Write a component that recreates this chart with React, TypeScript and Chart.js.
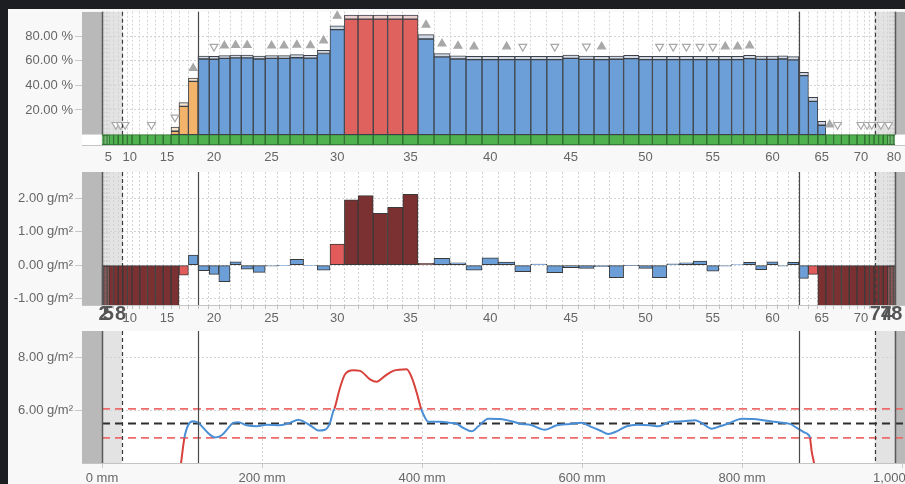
import { useEffect, useRef } from 'react';
import { Chart, registerables } from 'chart.js';

Chart.register(...registerables);
Chart.defaults.font.family = "'Liberation Sans', Arial, Helvetica, sans-serif";
Chart.defaults.font.size = 13;
Chart.defaults.color = '#666666';

// ---------------- data ----------------
// cross-direction zone edges (mm), 80 zones
const zoneEdgesMm = [
  0, 1.75, 3.5, 5.25, 7, 8.75, 14.5, 20.25, 26, 31.75, 37.5, 47.25, 57, 66.75, 76.5, 86.25, 96.25, 108, 120,
  134, 146, 160, 174, 189, 204, 220, 235, 252, 269, 285, 303, 320, 339, 357, 376, 395, 415, 435, 455, 475, 495.5,
  516, 536, 556, 576, 596, 615, 634, 652, 671, 688, 706, 722, 739, 756, 771, 787, 802, 817, 831, 845, 857, 871,
  883, 894.75, 904.75, 914.5, 924.25, 934, 943.75, 953.5, 959.25, 965, 970.75, 976.5, 982.25, 984, 985.75, 987.5,
  989.25, 991,
];

// coverage (%) per zone
const coverMainPct = [
  0, 0, 0, 0, 0, 0, 0, 0, 0, 0,
  0, 0, 0, 0, 0, 2.7, 23, 43.3, 61.5, 61.3,
  62, 62.4, 62.4, 61.5, 62, 62, 62.5, 62.2, 66, 85.4,
  94, 94, 94, 94, 94, 77.8, 63.2, 61.5, 61, 61,
  61, 61, 61, 61, 62, 61.2, 61, 61.3, 61.8, 61,
  61, 61, 61, 61, 61, 61, 61, 61.8, 61.2, 61.2,
  61.5, 60.8, 48, 27, 7.6, 0, 0, 0, 0, 0,
  0, 0, 0, 0, 0, 0, 0, 0, 0, 0,
];
const coverCapPct = [
  0, 0, 0, 0, 0, 0, 0, 0, 0, 0,
  0, 0, 0, 0, 0, 3.3, 3, 2.7, 2.3, 2.3,
  2.3, 2.3, 2.3, 2.3, 2.3, 2.3, 2.5, 2.3, 2.5, 3.2,
  3.3, 3.3, 3.3, 3.3, 3.3, 3.5, 2.7, 2.6, 2.6, 2.6,
  2.6, 2.6, 2.6, 2.6, 2.6, 2.6, 2.6, 2.6, 2.6, 2.6,
  2.6, 2.6, 2.6, 2.6, 2.6, 2.6, 2.6, 2.6, 2.6, 2.6,
  2.6, 2.6, 2.7, 3.3, 3.2, 0, 0, 0, 0, 0,
  0, 0, 0, 0, 0, 0, 0, 0, 0, 0,
];
const coverColorKey = [
  'b', 'b', 'b', 'b', 'b', 'b', 'b', 'b', 'b', 'b',
  'b', 'b', 'b', 'b', 'b', 'o', 'o', 'o', 'b', 'b',
  'b', 'b', 'b', 'b', 'b', 'b', 'b', 'b', 'b', 'b',
  'r', 'r', 'r', 'r', 'r', 'b', 'b', 'b', 'b', 'b',
  'b', 'b', 'b', 'b', 'b', 'b', 'b', 'b', 'b', 'b',
  'b', 'b', 'b', 'b', 'b', 'b', 'b', 'b', 'b', 'b',
  'b', 'b', 'b', 'b', 'b', 'b', 'b', 'b', 'b', 'b',
  'b', 'b', 'b', 'b', 'b', 'b', 'b', 'b', 'b', 'b',
];
// trend markers: 1 = rising, -1 = falling, 0 = none
const trendMarks = [
  0, 0, 0, 0, 0, 0, -1, -1, -1, 0,
  0, 0, -1, 0, 0, -1, 0, 1, 0, -1,
  1, 1, 1, 0, 1, 1, 1, 1, 1, 1,
  0, 0, 0, 0, 0, 1, 1, 1, 1, 0,
  1, -1, 0, -1, 0, -1, 1, 0, 0, 0,
  -1, -1, -1, -1, -1, 1, 1, 1, 0, 0,
  0, 0, 0, 0, 0, 1, -1, 0, 0, -1,
  -1, -1, 0, -1, 0, -1, 0, 0, 0, 0,
];
const markerGapPct = 8;
const statusBandMinPct = -8.5;
const topTicksPct = [20, 40, 60, 80];
const topLabelBars = [5, 10, 15, 20, 25, 30, 35, 40, 45, 50, 55, 60, 65, 70, 80];

// weight deviation (g/m²) per zone
const weightDeviationGsm = [
  -5.5, -5.5, -5.5, -5.5, -5.5, -5.5, -5.5, -5.5, -5.5, -5.5,
  -5.5, -5.5, -5.5, -5.5, -5.5, -5.5, -0.3, 0.3, -0.17, -0.28,
  -0.5, 0.1, -0.12, -0.22, -0.03, -0.02, 0.17, -0.02, -0.15, 0.63,
  1.96, 2.09, 1.56, 1.74, 2.13, 0.05, 0.2, 0.07, -0.15, 0.22,
  0.09, -0.2, 0.03, -0.23, -0.08, -0.1, -0.05, -0.38, -0.01, -0.1,
  -0.38, 0.04, 0.07, 0.12, -0.18, -0.03, 0.01, 0.08, -0.14, 0.1,
  -0.03, 0.08, -0.4, -0.28, -5.5, -5.5, -5.5, -5.5, -5.5, -5.5,
  -5.5, -5.5, -5.5, -5.5, -5.5, -5.5, -5.5, -5.5, -5.5, -5.5,
];
const deviationColorKey = [
  'd', 'd', 'd', 'd', 'd', 'd', 'd', 'd', 'd', 'd',
  'd', 'd', 'd', 'd', 'd', 'd', 'l', 'b', 'b', 'b',
  'b', 'b', 'b', 'b', 'b', 'b', 'b', 'b', 'b', 'l',
  'd', 'd', 'd', 'd', 'd', 'l', 'b', 'b', 'b', 'b',
  'b', 'b', 'b', 'b', 'b', 'b', 'b', 'b', 'b', 'b',
  'b', 'b', 'b', 'b', 'b', 'b', 'b', 'b', 'b', 'b',
  'b', 'b', 'b', 'l', 'd', 'd', 'd', 'd', 'd', 'd',
  'd', 'd', 'd', 'd', 'd', 'd', 'd', 'd', 'd', 'd',
];
const midTicksGsm = [-1, 0, 1, 2];
const midLabelBars = [10, 15, 20, 25, 30, 35, 40, 45, 50, 55, 60, 65, 70];
const midBigLabelBars = [2, 5, 8, 74, 78];

// continuous weight profile
const profileMm = [
  95, 98.8, 103, 107.9, 114.1, 120.4, 126.6, 135, 141.3, 149.6, 157.9, 164.1, 170.4, 180.9, 193.4, 205.9,
  222.5, 235, 245.4, 251.6, 262.1, 270.4, 278.8, 285, 289.1, 290.5, 297.5, 303.8, 314.1, 322.5, 335, 343.4,
  353.8, 364.1, 380.9, 387.1, 393.4, 399, 403.8, 407.9, 422.5, 435, 443.4, 451.6, 462.1, 470.4, 482.9, 497.5,
  512.1, 524.6, 535, 553.8, 568.4, 585, 599.6, 610, 622.5, 632.9, 643.4, 655.9, 668.4, 685, 695.4, 710,
  726.6, 741.3, 749.6, 762.1, 772.5, 785, 799.6, 814.1, 828.8, 845.4, 860, 868.4, 876.6, 882.9, 885, 887.1,
  890, 892.5,
];
const profileGsm = [
  3.2, 4.0, 4.95, 5.45, 5.58, 5.52, 5.33, 5.07, 4.97, 5.05, 5.33, 5.52, 5.54, 5.43, 5.39, 5.45,
  5.43, 5.52, 5.64, 5.58, 5.39, 5.23, 5.26, 5.52, 5.96, 6.05, 6.85, 7.36, 7.51, 7.49, 7.17, 7.08,
  7.3, 7.49, 7.55, 7.24, 6.66, 6.05, 5.71, 5.56, 5.56, 5.52, 5.48, 5.33, 5.2, 5.39, 5.68, 5.67,
  5.58, 5.48, 5.45, 5.26, 5.43, 5.48, 5.52, 5.39, 5.23, 5.1, 5.2, 5.39, 5.45, 5.43, 5.39, 5.56,
  5.58, 5.62, 5.52, 5.3, 5.39, 5.52, 5.68, 5.67, 5.61, 5.54, 5.48, 5.33, 5.18, 5.07, 4.95, 4.44,
  4.0, 3.4,
];
const targetGsm = 5.5;
const upperGsm = 6.05;
const lowerGsm = 4.95;
const bottomTicksGsm = [6, 8];
const bottomTicksMm = [0, 200, 400, 600, 800, 1000];

// reference zones (mm)
const axisMinMm = -25;
const axisMaxMm = 1005;
const outsideZonesMm = [[-25, 0], [991, 1005]];
const edgeTrimZonesMm = [[0, 25], [966, 991]];
const productEdgeLinesMm = [0, 991];
const trimLinesMm = [25, 966];
const measureLinesMm = [120, 871];

// ---------------- styles ----------------
const coverFill: Record<string, string> = { b: '#6c9fd8', o: '#f4b36b', r: '#e0625f' };
const coverCapFill: Record<string, string> = { b: '#cfd8e4', o: '#f3e3cf', r: '#ecd0d0' };
const deviationFill: Record<string, string> = { d: '#7b3131', l: '#e25b5b', b: '#6c9fd8' };
const barEdge = '#3e4248';
const gridColor = '#d2d2d2';

const barCount = zoneEdgesMm.length - 1;
const barCentersMm = zoneEdgesMm.slice(0, barCount).map((e, i) => (e + zoneEdgesMm[i + 1]) / 2);

const zoneThickness = (ctx: any) => {
  const x = ctx.chart && ctx.chart.scales ? ctx.chart.scales.x : null;
  const i = ctx.datasetIndex;
  if (!x || !x.width || i == null || i >= barCount) return 1;
  return Math.max(0.6, x.getPixelForValue(zoneEdgesMm[i + 1]) - x.getPixelForValue(zoneEdgesMm[i]));
};

const regionsPlugin = {
  id: 'regions',
  beforeDraw(chart: any, _a: any, opts: any) {
    const { ctx, chartArea: a, scales } = chart;
    const x = scales.x;
    const y = scales.y;
    const bottom = opts.useFloor ? y.getPixelForValue(opts.floor) : a.bottom;
    ctx.save();
    ctx.fillStyle = '#ffffff';
    ctx.fillRect(a.left, a.top, a.right - a.left, a.bottom - a.top);
    ctx.fillStyle = '#e3e3e3';
    edgeTrimZonesMm.forEach(([s, e]) => {
      const x0 = x.getPixelForValue(s);
      const x1 = x.getPixelForValue(e);
      ctx.fillRect(x0, a.top, x1 - x0, bottom - a.top);
    });
    ctx.restore();
  },
  beforeDatasetsDraw(chart: any, _a: any, opts: any) {
    const { ctx, chartArea: a, scales } = chart;
    const x = scales.x;
    const y = scales.y;
    const bottom = opts.useFloor ? y.getPixelForValue(opts.floor) : a.bottom;
    ctx.save();
    ctx.beginPath();
    ctx.rect(a.left, a.top, a.right - a.left, a.bottom - a.top);
    ctx.clip();
    ctx.fillStyle = '#b9b9b9';
    outsideZonesMm.forEach(([s, e]) => {
      const x0 = x.getPixelForValue(s);
      const x1 = x.getPixelForValue(e);
      ctx.fillRect(x0, a.top, x1 - x0, bottom - a.top);
    });
    ctx.restore();
  },
  afterDatasetsDraw(chart: any, _a: any, opts: any) {
    const { ctx, chartArea: a, scales } = chart;
    const x = scales.x;
    const y = scales.y;
    const bottom = opts.useFloor ? y.getPixelForValue(opts.floor) : a.bottom;
    const line = (mm: number, color: string, width: number, dash: number[]) => {
      const px = Math.round(x.getPixelForValue(mm)) + 0.5;
      ctx.beginPath();
      ctx.strokeStyle = color;
      ctx.lineWidth = width;
      ctx.setLineDash(dash);
      ctx.moveTo(px, a.top);
      ctx.lineTo(px, bottom);
      ctx.stroke();
    };
    ctx.save();
    productEdgeLinesMm.forEach((m) => line(m, '#595959', 1.5, []));
    trimLinesMm.forEach((m) => line(m, '#3a3a3a', 1.2, [4, 3]));
    measureLinesMm.forEach((m) => line(m, '#4a4a4a', 1.2, []));
    ctx.restore();
  },
};

const yAxis = (min: number, max: number, ticks: number[], unit: string) => ({
  type: 'linear',
  min,
  max,
  bounds: 'data',
  afterFit: (s: any) => {
    s.width = 74;
    s.paddingTop = 0;
    s.paddingBottom = 0;
  },
  afterBuildTicks: (s: any) => {
    s.ticks = ticks.map((v) => ({ value: v }));
  },
  ticks: {
    padding: 2,
    color: '#666',
    font: { size: 13 },
    callback: (v: any) => `${Number(v).toFixed(2)} ${unit}`,
  },
  grid: { color: gridColor, tickLength: 7, tickColor: '#c8c8c8', drawTicks: true },
  border: { display: false, dash: [2, 2] },
});

const xZoneAxis = (labels: number[], big: number[], height: number, tickLen: number, pad: number) => {
  const labelSet = new Set(labels);
  const bigSet = new Set(big);
  return {
    type: 'linear',
    min: axisMinMm,
    max: axisMaxMm,
    bounds: 'data',
    offset: false,
    afterBuildTicks: (s: any) => {
      s.ticks = barCentersMm.map((v) => ({ value: v }));
    },
    afterFit: (s: any) => {
      s.height = height;
      s.paddingLeft = 0;
      s.paddingRight = 0;
    },
    grid: { color: gridColor, drawTicks: tickLen > 0, tickLength: tickLen, tickColor: '#c0c0c0' },
    border: { display: true, color: '#c4c4c4', dash: [2, 2] },
    ticks: {
      autoSkip: false,
      maxRotation: 0,
      minRotation: 0,
      padding: pad,
      crossAlign: big.length ? 'center' : 'near',
      font: (c: any) => (bigSet.has(c.index + 1) ? { size: 20, weight: 'bold' } : { size: 13 }),
      color: (c: any) => (bigSet.has(c.index + 1) ? '#555' : '#666'),
      callback: (_v: any, i: number) => (labelSet.has(i + 1) || bigSet.has(i + 1) ? String(i + 1) : ''),
    },
  };
};

const baseOptions = (padTop: number, plug: any) => ({
  responsive: false,
  animation: false,
  events: [],
  layout: { padding: { top: padTop, right: 30, left: 0, bottom: 0 } },
  plugins: { legend: { display: false }, tooltip: { enabled: false }, regions: plug },
});

function topConfig(): any {
  const bars = barCentersMm.map((c, i) => {
    const main = coverMainPct[i];
    const cap = coverCapPct[i];
    const key = coverColorKey[i];
    return {
      type: 'bar',
      data: [
        { x: c, y: [statusBandMinPct, 0] },
        { x: c, y: [0, main] },
        { x: c, y: [main, main + cap] },
      ],
      backgroundColor: ['#4fb24f', coverFill[key], coverCapFill[key]],
      borderColor: ['#2c6a2c', barEdge, barEdge],
      borderWidth: 1,
      borderSkipped: false,
      grouped: false,
      barPercentage: 1,
      categoryPercentage: 1,
      barThickness: zoneThickness,
    };
  });
  const marked = trendMarks.map((_, i) => i).filter((i) => trendMarks[i] !== 0);
  const markers = {
    type: 'line',
    order: -1,
    showLine: false,
    clip: false,
    data: marked.map((i) => ({ x: barCentersMm[i], y: coverMainPct[i] + coverCapPct[i] + markerGapPct })),
    pointStyle: 'triangle',
    pointRadius: 4.5,
    pointRotation: marked.map((i) => (trendMarks[i] > 0 ? 0 : 180)),
    pointBackgroundColor: marked.map((i) => (trendMarks[i] > 0 ? '#a8a8a8' : '#ffffff')),
    pointBorderColor: '#a8a8a8',
    pointBorderWidth: 1.2,
  };
  return {
    type: 'bar',
    data: { datasets: [...bars, markers] },
    options: {
      ...baseOptions(0, { useFloor: true, floor: 0 }),
      scales: {
        x: xZoneAxis(topLabelBars, [], 23, 0, 5),
        y: yAxis(statusBandMinPct, 100, topTicksPct, '%'),
      },
    },
    plugins: [regionsPlugin],
  };
}

function midConfig(): any {
  const bars = barCentersMm.map((c, i) => ({
    type: 'bar',
    data: [{ x: c, y: weightDeviationGsm[i] }],
    backgroundColor: deviationFill[deviationColorKey[i]],
    borderColor: '#3a3a3a',
    borderWidth: 1,
    borderSkipped: false,
    grouped: false,
    barPercentage: 1,
    categoryPercentage: 1,
    barThickness: zoneThickness,
  }));
  return {
    type: 'bar',
    data: { datasets: bars },
    options: {
      ...baseOptions(4, { useFloor: false, floor: 0 }),
      scales: {
        x: xZoneAxis(midLabelBars, midBigLabelBars, 25, 4, 5),
        y: yAxis(-1.2, 2.8, midTicksGsm, 'g/m²'),
      },
    },
    plugins: [regionsPlugin],
  };
}

function bottomConfig(): any {
  const isOut = (v: number) => v > upperGsm + 1e-6 || v < lowerGsm - 1e-6;
  const hLine = (v: number, color: string, width: number) => ({
    data: [
      { x: 0, y: v },
      { x: axisMaxMm, y: v },
    ],
    borderColor: color,
    borderWidth: width,
    borderDash: [8, 5],
    pointRadius: 0,
  });
  return {
    type: 'line',
    data: {
      datasets: [
        hLine(upperGsm, '#ef6a6a', 1.6),
        hLine(lowerGsm, '#ef6a6a', 1.6),
        hLine(targetGsm, '#2e2e2e', 2),
        {
          order: -1,
          data: profileMm.map((x, i) => ({ x, y: profileGsm[i] })),
          borderColor: '#4a8fd6',
          borderWidth: 2,
          pointRadius: 0,
          cubicInterpolationMode: 'monotone',
          segment: {
            borderColor: (c: any) => (isOut(c.p0.parsed.y) || isOut(c.p1.parsed.y) ? '#d8423c' : '#4a8fd6'),
          },
        },
      ],
    },
    options: {
      ...baseOptions(1, { useFloor: false, floor: 0 }),
      scales: {
        x: {
          type: 'linear',
          min: axisMinMm,
          max: axisMaxMm,
          bounds: 'data',
          afterBuildTicks: (s: any) => {
            s.ticks = bottomTicksMm.map((v) => ({ value: v }));
          },
          afterFit: (s: any) => {
            s.height = 30;
            s.paddingLeft = 0;
            s.paddingRight = 0;
          },
          grid: { color: gridColor, tickLength: 5, tickColor: '#c8c8c8' },
          border: { display: true, color: '#c4c4c4', dash: [2, 2] },
          ticks: {
            maxRotation: 0,
            minRotation: 0,
            padding: 3,
            callback: (v: any) => `${Number(v).toLocaleString('en-US')} mm`,
          },
        },
        y: yAxis(4, 9, bottomTicksGsm, 'g/m²'),
      },
    },
    plugins: [regionsPlugin],
  };
}

export default function App() {
  const topRef = useRef<HTMLCanvasElement>(null);
  const midRef = useRef<HTMLCanvasElement>(null);
  const botRef = useRef<HTMLCanvasElement>(null);

  useEffect(() => {
    const charts = [
      new Chart(topRef.current as HTMLCanvasElement, topConfig()),
      new Chart(midRef.current as HTMLCanvasElement, midConfig()),
      new Chart(botRef.current as HTMLCanvasElement, bottomConfig()),
    ];
    return () => charts.forEach((c) => c.destroy());
  }, []);

  return (
    <div
      style={{
        position: 'fixed',
        left: 0,
        top: 0,
        width: 905,
        height: 484,
        background: '#1c1e22',
        overflow: 'hidden',
      }}
    >
      <div style={{ position: 'absolute', left: 8, top: 9, right: 0, bottom: 0, background: '#f8f8f8' }} />
      <canvas ref={topRef} width={928} height={162} style={{ position: 'absolute', left: 8, top: 6 }} />
      <canvas ref={midRef} width={928} height={162} style={{ position: 'absolute', left: 8, top: 168 }} />
      <canvas ref={botRef} width={928} height={163} style={{ position: 'absolute', left: 8, top: 330 }} />
    </div>
  );
}
